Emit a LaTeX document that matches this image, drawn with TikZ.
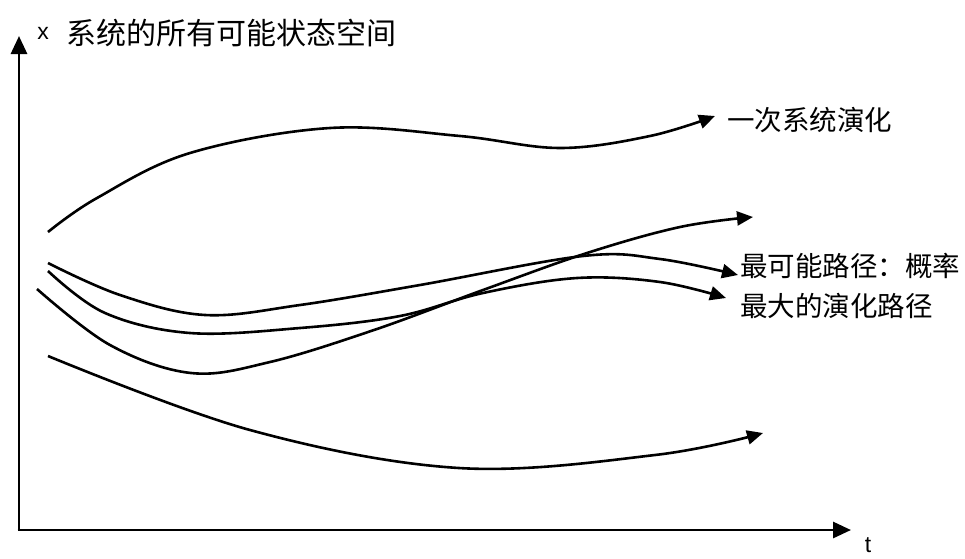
\documentclass[tikz,border=0pt]{standalone}
\usepackage{fontspec}
\setmainfont{Liberation Sans}
\newfontfamily\cjk{Noto Sans CJK SC}
\usetikzlibrary{arrows.meta}
\tikzset{
  axis/.style={line width=2.9pt, -{Triangle[length=18pt,width=16pt]}},
  path/.style={line width=2.6pt, -{Triangle[length=16pt,width=14pt]}},
  lbl/.style={anchor=west, inner sep=0pt, font=\cjk\fontsize{27.5}{30}\selectfont},
  latin/.style={inner sep=0pt, font=\fontsize{23}{25}\selectfont}
}
\begin{document}
\begin{tikzpicture}[x=1pt,y=-1pt]
\useasboundingbox (0,0) rectangle (965,558);
% axes
\coordinate (O) at (19,530);
\coordinate (Ytop) at (19,36);
\coordinate (Xend) at (851,530);
\draw[axis] (O) -- (Ytop);
\draw[axis] ([xshift=-1.45pt]O) -- (Xend);
\node[latin] (xl) at (43,33) {x};
\node[lbl, font=\cjk\fontsize{30}{32}\selectfont] (ttl) at (66,33) {系统的所有可能状态空间};
\node[latin] (tl) at (868,545) {t};
% curve end coordinates
\coordinate (a0) at (48,232);
\coordinate (a1) at (715,116);
\coordinate (b0) at (48,263);
\coordinate (b1) at (738,275);
\coordinate (c0) at (48,271);
\coordinate (c1) at (726,298);
\coordinate (d0) at (37,289);
\coordinate (d1) at (753,217);
\coordinate (e0) at (48,356);
\coordinate (e1) at (763,433);
% one evolution
\draw[path] plot[smooth, tension=0.6] coordinates {(a0) (97,198) (190,153) (330,128) (460,136) (560,148) (650,136) (a1)};
% most likely 1
\draw[path] plot[smooth, tension=0.6] coordinates {(b0) (120,295) (205,315) (300,305) (420,285) (583,256) (660,259) (b1)};
% most likely 2
\draw[path] plot[smooth, tension=0.6] coordinates {(c0) (105,313) (190,333) (300,328) (400,316) (483,293) (577,278) (660,282) (c1)};
% rising
\draw[path] plot[smooth, tension=0.6] coordinates {(d0) (110,345) (191,373) (270,362) (374,330) (483,290) (587,253) (680,227) (d1)};
% bottom
\draw[path] plot[smooth, tension=0.6] coordinates {(e0) (250,430) (459,468) (655,455) (e1)};
% labels
\node[lbl] (l1) at (727,120) {一次系统演化};
\node[lbl] (l2) at (740,266) {最可能路径：概率};
\node[lbl] (l3) at (740,306) {最大的演化路径};
\end{tikzpicture}
\end{document}
